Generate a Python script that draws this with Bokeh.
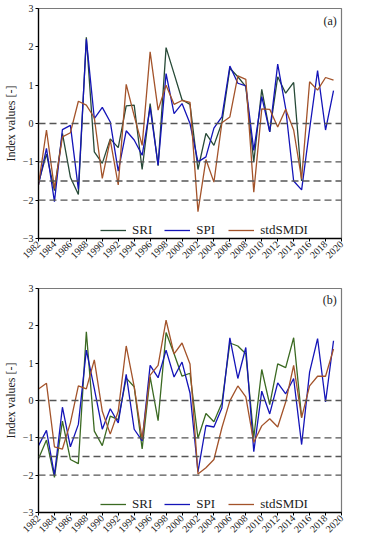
import math
from bokeh.plotting import figure
from bokeh.models import Span, Label, Legend, LegendItem, FixedTicker
from bokeh.layouts import column
from bokeh.embed import file_html
from bokeh.resources import INLINE

years = list(range(1982, 2020))
sri_years = list(range(1982, 2016))
x_ticks = list(range(1982, 2021, 2))
y_ticks = [-3, -2, -1, 0, 1, 2, 3]
ref_levels = [0, -1, -1.5, -2]

sri_a = [-1.55, -0.8, -1.75, -0.26, -1.4, -1.85, 2.25, -0.74, -1.04, -0.4, -0.63, 0.46, 0.48, -1.2,
         0.52, -1.1, 1.98, 1.3, 0.62, 0.5, -1.2, -0.26, -0.57, 0.02, 1.44, 1.22, 0.96, -1.0, 0.89,
         -0.22, 1.22, 0.79, 1.07, -1.5]
spi_a = [-1.6, -0.65, -2.04, -0.16, -0.05, -1.72, 2.2, 0.13, 0.42, 0.04, -1.24, -0.19, -0.43, -0.83,
         0.42, -1.09, 1.3, 0.26, 0.52, 0.0, -1.0, -0.87, -0.12, 0.17, 1.5, 1.05, 0.98, -0.7, 0.7,
         -0.22, 1.55, 0.39, -1.5, -1.73, -0.15, 1.38, -0.17, 0.86]
smdi_a = [-1.6, -0.17, -1.7, -0.35, -0.24, 0.58, 0.48, 0.15, -1.43, -0.43, -1.6, 1.02, 0.2, -0.57,
          1.87, 0.35, 1.0, 0.5, 0.6, 0.55, -2.3, -0.94, -1.53, 0.02, 0.17, 1.24, 1.15, -1.79, 0.38,
          0.37, -0.09, 0.37, -0.17, -1.45, 1.09, 0.87, 1.2, 1.13]

sri_b = [-1.56, -1.06, -2.06, -0.55, -1.58, -1.69, 1.84, -0.82, -1.21, -0.42, -0.51, 0.6, 0.37, -1.3,
         0.63, -0.54, 1.82, 1.25, 0.65, 0.73, -1.01, -0.35, -0.57, -0.07, 1.54, 1.46, 1.25, -0.99,
         0.83, -0.11, 0.98, 0.88, 1.68, -0.46]
spi_b = [-1.21, -0.8, -2.0, -0.18, -1.24, -0.64, 1.35, 0.32, -0.77, -0.22, -0.6, 0.7, -0.77, -1.08,
         0.94, 0.61, 1.35, 0.63, 1.03, 0.2, -1.91, -0.67, -0.71, -0.2, 1.68, 0.59, 1.42, -1.37, 0.25,
         -0.36, 0.47, 0.18, 0.59, -1.18, 0.76, 1.66, -0.04, 1.6]
smdi_b = [0.31, 0.46, -1.24, -1.3, -0.6, 0.39, 0.31, 1.09, -0.29, -0.9, -0.29, 1.46, 0.37, -1.04,
          0.68, 0.94, 2.15, 1.25, 1.54, 0.98, -1.97, -1.8, -1.58, -0.73, -0.01, 0.39, 0.1, -1.12,
          -0.68, -0.49, -0.71, -0.04, 0.94, -0.46, 0.39, 0.65, 0.65, 1.38]

FONT = "Liberation Serif"
SPI_COLOR = "#1414b8"
SMDI_COLOR = "#a3532a"


def make_panel(tag, sri, spi, smdi, sri_color, height, top, bottom):
    p = figure(width=351, height=height, x_range=(1982, 2020), y_range=(-3, 3),
               output_backend="svg", toolbar_location=None,
               min_border_left=22, min_border_right=10,
               min_border_top=top, min_border_bottom=bottom)
    p.xgrid.visible = False
    p.ygrid.visible = False
    p.outline_line_color = "#7a7a7a"
    p.outline_line_width = 1.2
    p.background_fill_color = "white"
    p.border_fill_color = "white"

    for lv in ref_levels:
        p.add_layout(Span(location=lv, dimension="width", line_color="#555555",
                          line_width=1.3, line_dash="7 4"))

    r1 = p.line(sri_years, sri, line_color=sri_color, line_width=1.3)
    r2 = p.line(years, spi, line_color=SPI_COLOR, line_width=1.3)
    r3 = p.line(years, smdi, line_color=SMDI_COLOR, line_width=1.3)

    for ax in (p.xaxis[0], p.yaxis[0]):
        ax.axis_line_color = "black"
        ax.axis_line_width = 1.3
        ax.major_tick_line_color = "black"
        ax.major_tick_in = 0
        ax.major_tick_out = 3
        ax.minor_tick_line_color = None
        ax.major_label_text_font = FONT
        ax.major_label_text_font_size = "10px"
        ax.major_label_text_color = "#222222"
        ax.major_label_standoff = 2

    p.xaxis[0].ticker = FixedTicker(ticks=x_ticks)
    p.xaxis[0].major_label_orientation = math.pi / 4
    p.xaxis[0].major_label_standoff = 1
    p.yaxis[0].ticker = FixedTicker(ticks=y_ticks)
    p.yaxis[0].axis_label = "Index values [-]"
    p.yaxis[0].axis_label_text_font = FONT
    p.yaxis[0].axis_label_text_font_size = "12px"
    p.yaxis[0].axis_label_text_font_style = "normal"
    p.yaxis[0].axis_label_text_color = "#222222"
    p.yaxis[0].axis_label_standoff = 2

    legend = Legend(items=[LegendItem(label="SRI", renderers=[r1]),
                           LegendItem(label="SPI", renderers=[r2]),
                           LegendItem(label="stdSMDI", renderers=[r3])],
                    orientation="horizontal", location=(62, 0),
                    label_text_font=FONT, label_text_font_size="13px",
                    label_text_color="#222222",
                    glyph_width=26, glyph_height=12, label_standoff=6, spacing=12,
                    padding=0, margin=0, border_line_color=None,
                    background_fill_alpha=0)
    p.add_layout(legend)

    p.add_layout(Label(x=2019.4, y=2.68, text=tag, text_align="right",
                       text_baseline="middle", text_font=FONT,
                       text_font_size="12px", text_color="#222222"))
    return p


pa = make_panel("(a)", sri_a, spi_a, smdi_a, "#274a37", 272, 8, 34)
pb = make_panel("(b)", sri_b, spi_b, smdi_b, "#3b6a22", 268, 16, 28)

layout = column(pa, pb, spacing=0)
open("out.html", "w").write(file_html(layout, INLINE))
